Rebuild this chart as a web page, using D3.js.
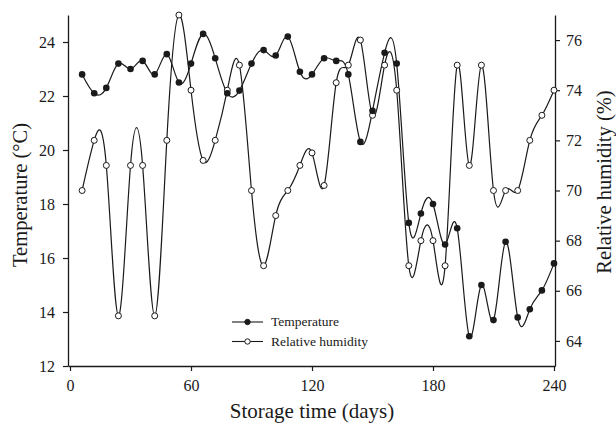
<!DOCTYPE html>
<html lang="en">
<head>
  <meta charset="UTF-8">
  <title>storage temperature / humidity</title>
  <script src="https://cdn.jsdelivr.net/npm/d3@7"></script>
  <style>
    body { margin: 0; background: #fff; }
  </style>
</head>
<body>
<script>
  // storage day of each reading
  const days = [6, 12, 18, 24, 30, 36, 42, 48, 54, 60, 66, 72, 78, 84, 90, 96, 102, 108, 114, 120,
    126, 132, 138, 144, 150, 156, 162, 168, 174, 180, 186, 192, 198, 204, 210, 216, 222, 228, 234, 240];
  // temperature (°C), left axis
  const temperature = [22.8, 22.1, 22.3, 23.2, 23.0, 23.3, 22.8, 23.55, 22.5, 23.2, 24.3, 23.4, 22.1, 22.2, 23.2, 23.7, 23.5, 24.2, 22.9, 22.8,
    23.4, 23.3, 22.8, 20.3, 21.45, 23.6, 23.2, 17.3, 17.65, 18.0, 16.5, 17.1, 13.1, 15.0, 13.7, 16.6, 13.8, 14.1, 14.8, 15.8];
  // relative humidity (%), right axis
  const humidity = [70, 72, 71, 65, 71, 71, 65, 72, 77, 74, 71.2, 72, 74, 75, 70, 67, 69, 70, 71, 71.5,
    70.2, 74.3, 75, 76, 73, 75, 74, 67, 68, 68, 67, 75, 71, 75, 70, 70, 70, 72, 73, 74];

  const xTicks = [0, 60, 120, 180, 240];
  const tempTicks = [12, 14, 16, 18, 20, 22, 24];
  const rhTicks = [64, 66, 68, 70, 72, 74, 76];

  const width = 616;
  const height = 424;
  const margin = { top: 15, right: 61, bottom: 58, left: 68 }
  const serif = "'Liberation Serif', 'Times New Roman', serif";

  const svg = d3.select('body').append('svg')
    .attr('width', width).attr('height', height)
    .attr('viewBox', [0, 0, width, height])
    .attr('font-family', serif);

  const x = d3.scaleLinear()
    .domain([-1, 240.5])
    .range([margin.left, width - margin.right])

  const yT = d3.scaleLinear()
    .domain([12, 25])
    .range([height - margin.bottom, margin.top])

  const yH = d3.scaleLinear()
    .domain([63, 77])
    .range([height - margin.bottom, margin.top])

  const ink = '#1a1a1a';

  const styleAxis = g => g
    .attr('font-family', serif)
    .attr('font-size', 16)
    .style('color', ink)
    .call(g => g.select('.domain').attr('stroke-width', 1.3))
    .call(g => g.selectAll('.tick line').attr('stroke-width', 1.2))

  svg.append('g')
    .attr('transform', `translate(0,${height - margin.bottom})`)
    .call(d3.axisBottom(x).tickValues(xTicks).tickSize(5).tickSizeOuter(0).tickPadding(9))
    .call(styleAxis)

  svg.append('g')
    .attr('transform', `translate(${margin.left},0)`)
    .call(d3.axisLeft(yT).tickValues(tempTicks).tickSize(5).tickSizeOuter(0).tickPadding(8))
    .call(styleAxis)

  svg.append('g')
    .attr('transform', `translate(${width - margin.right},0)`)
    .call(d3.axisRight(yH).tickValues(rhTicks).tickSize(5).tickSizeOuter(0).tickPadding(6))
    .call(styleAxis)

  // axis titles
  svg.append('text')
    .attr('x', (x(0) + x(240)) / 2).attr('y', 418)
    .attr('text-anchor', 'middle')
    .style('font-size', '21px').attr('fill', ink)
    .text('Storage time (days)')

  svg.append('text')
    .attr('transform', `translate(27,195) rotate(-90)`)
    .attr('text-anchor', 'middle')
    .style('font-size', '20.5px').attr('fill', ink)
    .text('Temperature (°C)')

  svg.append('text')
    .attr('transform', `translate(597,182) rotate(-90)`)
    .attr('text-anchor', 'middle')
    .attr('dominant-baseline', 'hanging')
    .style('font-size', '20.5px').attr('fill', ink)
    .text('Relative humidity (%)')

  const lineT = d3.line().curve(d3.curveNatural)
    .x((d, i) => x(days[i])).y(d => yT(d))
  const lineH = d3.line().curve(d3.curveNatural)
    .x((d, i) => x(days[i])).y(d => yH(d))

  svg.append('path')
    .attr('d', lineH(humidity))
    .attr('fill', 'none').attr('stroke', ink).attr('stroke-width', 1.2)

  svg.append('path')
    .attr('d', lineT(temperature))
    .attr('fill', 'none').attr('stroke', ink).attr('stroke-width', 1.2)

  svg.append('g')
    .selectAll('circle')
    .data(humidity)
    .join('circle')
    .attr('cx', (d, i) => x(days[i]))
    .attr('cy', d => yH(d))
    .attr('r', 3)
    .attr('fill', '#fff').attr('stroke', ink).attr('stroke-width', 1)

  svg.append('g')
    .selectAll('circle')
    .data(temperature)
    .join('circle')
    .attr('cx', (d, i) => x(days[i]))
    .attr('cy', d => yT(d))
    .attr('r', 3.3)
    .attr('fill', ink)

  // legend
  const legend = svg.append('g').attr('transform', 'translate(232,322)')
  const items = [
    { label: 'Temperature', fill: ink },
    { label: 'Relative humidity', fill: '#fff' }
  ]
  const row = legend.selectAll('g').data(items).join('g')
    .attr('transform', (d, i) => `translate(0,${i * 19.5})`)
  row.append('line')
    .attr('x1', 0).attr('x2', 31)
    .attr('stroke', ink).attr('stroke-width', 1.1)
  row.append('circle')
    .attr('cx', 15.5).attr('r', 2.7)
    .attr('fill', d => d.fill).attr('stroke', ink).attr('stroke-width', 1)
  row.append('text')
    .attr('x', 39).attr('dy', '0.33em')
    .style('font-size', '13.5px').attr('fill', ink)
    .text(d => d.label)
</script>
</body>
</html>
